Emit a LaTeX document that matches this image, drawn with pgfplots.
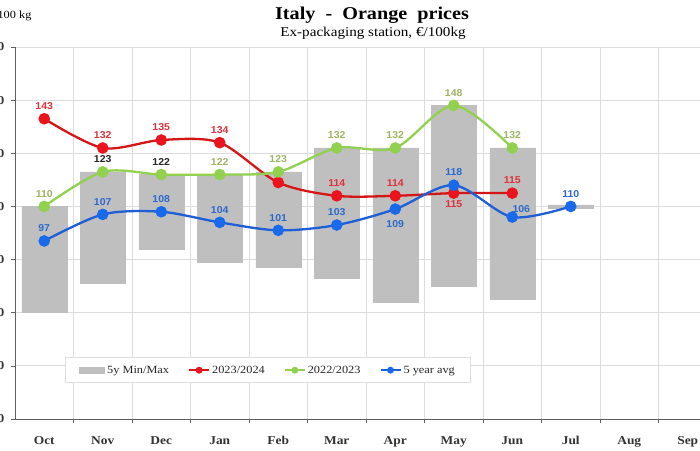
\documentclass[border=0pt]{standalone}
\usepackage{fontspec}
\setmainfont{Liberation Serif}[FakeStretch=1.12]
\newfontfamily\labfont{Liberation Sans}[FakeStretch=1.05]
\usepackage{pgfplots}
\usepackage{pgfplotstable}
\pgfplotsset{compat=1.18}

\definecolor{barGray}{RGB}{191,191,191}
\definecolor{gridGray}{RGB}{220,220,220}
\definecolor{axGray}{RGB}{95,95,95}
\definecolor{redLine}{RGB}{212,22,22}
\definecolor{redMark}{RGB}{235,20,30}
\definecolor{redLab}{RGB}{222,50,60}
\definecolor{greenLine}{RGB}{146,208,80}
\definecolor{greenLab}{RGB}{160,178,100}
\definecolor{blueLine}{RGB}{30,95,215}
\definecolor{blueMark}{RGB}{25,105,235}
\definecolor{blueLab}{RGB}{45,105,205}

% 5 year min / max per month (Oct = 0 ... Jul = 9); Jul is a single value (110)
\pgfplotstableread{
x min max
0 70 110
1 81 123
2 94 122
3 89 122
4 87 123
5 83 132
6 74 132
7 80 148
8 75 132
9 109.4 110.6
}\minmax

\tikzset{labfnt/.style={font=\labfont\bfseries\fontsize{10}{12}\selectfont, inner sep=1pt}}

\pgfplotsset{
  common/.style={
    at={(15pt,31pt)}, anchor=south west,
    scale only axis, width=702pt, height=372pt,
    xmin=-0.5, xmax=11.5, ymin=30, ymax=170,
    /pgf/number format/assume math mode=true,
  },
  serie/.style={smooth, tension=0.5, line width=2.3pt, mark=*, mark size=4.6pt},
  labA/.style={draw=none, mark=none, forget plot, nodes near coords,
    every node near coord/.append style={labfnt, anchor=south, yshift=8pt, text=#1}},
  labB/.style={draw=none, mark=none, forget plot, nodes near coords,
    every node near coord/.append style={labfnt, anchor=north, yshift=-6pt, text=#1}},
}

\begin{document}
\begin{tikzpicture}
\useasboundingbox (0,0) rectangle (700pt,450pt);

\begin{axis}[common,
  ybar stacked, bar width=45pt,
  axis x line*=bottom, axis y line*=left,
  axis line style={draw=axGray, line width=0.8pt},
  tick align=outside,
  xtick={0,...,11},
  xticklabels={Oct,Nov,Dec,Jan,Feb,Mar,Apr,May,Jun,Jul,Aug,Sep},
  major x tick style={draw=none},
  minor xtick={0.5,1.5,...,10.5},
  minor x tick style={draw=axGray, line width=0.6pt},
  minor tick length=4pt,
  xminorgrids,
  ytick={30,50,...,170},
  major y tick style={draw=axGray, line width=0.6pt},
  major tick length=4pt,
  ymajorgrids,
  grid style={draw=gridGray, line width=0.8pt},
  ticklabel style={font=\bfseries\fontsize{12}{14}\selectfont, text=black!80},
  xticklabel style={yshift=-10pt},
  yticklabel style={xshift=-3pt},
]
\addplot[draw=none, fill=none] table[x=x, y=min] {\minmax};
\addplot[fill=barGray, draw=barGray, line width=0.5pt]
  table[x=x, y expr=\thisrow{max}-\thisrow{min}] {\minmax};
\end{axis}

\begin{axis}[common, hide axis,
  legend columns=4,
  legend style={at={(0.0712,0.0968)}, anchor=south west,
    draw=gridGray, fill=white, line width=0.8pt,
    font=\fontsize{11}{13}\selectfont, text=black!85,
    inner xsep=14pt, inner ysep=6pt,
    /tikz/every odd column/.append style={column sep=0pt},
    /tikz/every even column/.append style={column sep=17pt}},
  legend image code/.code={
    \draw[mark repeat=2, mark phase=2, #1, mark size=2.4pt, line width=2pt]
      plot coordinates {(0pt,0pt) (10pt,0pt) (20pt,0pt)};},
]
\addlegendimage{legend image code/.code={
    \fill[barGray] (-2pt,-3pt) rectangle (23pt,3pt);}}
\addlegendentry{5y Min/Max}

\addplot[serie, draw=redLine, mark options={fill=redMark, draw=redMark}]
  coordinates {(0,143) (1,132) (2,135) (3,134) (4,119) (5,114) (6,114) (7,115) (8,115)};
\addlegendentry{2023/2024}

\addplot[serie, draw=greenLine, mark options={fill=greenLine, draw=greenLine}]
  coordinates {(0,110) (1,123) (2,122) (3,122) (4,123) (5,132) (6,132) (7,148) (8,132)};
\addlegendentry{2022/2023}

\addplot[serie, draw=blueLine, mark options={fill=blueMark, draw=blueMark}]
  coordinates {(0,97) (1,107) (2,108) (3,104) (4,101) (5,103) (6,109) (7,118) (8,106) (9,110)};
\addlegendentry{5 year avg}

% data labels
\addplot[labA=redLab] coordinates {(0,143) (1,132) (2,135) (3,134) (5,114) (6,114) (8,115)};
\addplot[labB=redLab] coordinates {(7,115)};
\addplot[labA=greenLab] coordinates {(0,110) (3,122) (4,123) (5,132) (6,132) (7,148) (8,132)};
\addplot[labA=black!85] coordinates {(1,123) (2,122)};
\addplot[labA=blueLab] coordinates {(0,97) (1,107) (2,108) (3,104) (4,101) (5,103) (7,118) (9,110)};
\addplot[labB=blueLab, every node near coord/.append style={yshift=-4pt}] coordinates {(6,109)};
\addplot[labA=blueLab, every node near coord/.append style={xshift=9pt, yshift=-5pt}] coordinates {(8,106)};
\end{axis}

\node[font=\bfseries\fontsize{18}{20}\selectfont] at (372pt,435pt) {Italy\ \ -\ \ Orange\ \ prices};
\node[font=\fontsize{13.5}{15}\selectfont] at (373pt,417pt) {Ex-packaging\ station, €/100kg};
\node[anchor=east, font=\fontsize{11}{13}\selectfont] at (35pt,434pt) {€/100 kg};
\end{tikzpicture}
\end{document}
